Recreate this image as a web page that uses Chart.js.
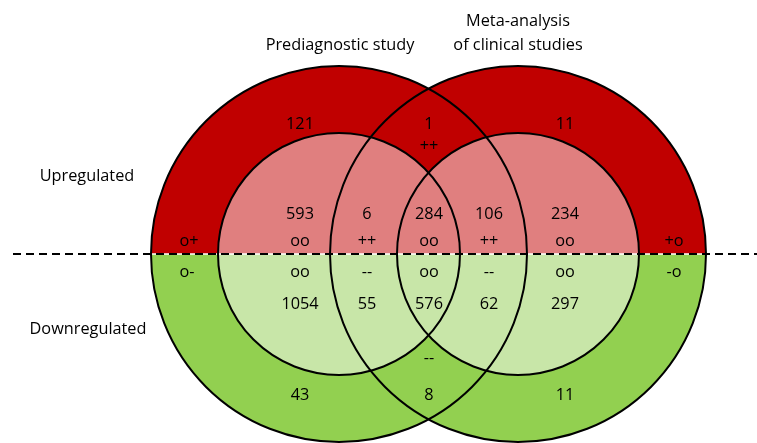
<!DOCTYPE html>
<html>
<head>
<meta charset="utf-8">
<script src="https://cdn.jsdelivr.net/npm/chart.js@4"></script>
<style>
html,body{margin:0;padding:0;background:#fff;}
#wrap{width:757px;height:443px;}
</style>
</head>
<body>
<div id="wrap"><canvas id="c" width="757" height="443"></canvas></div>
<script>
// ---- data (counts per region) ----
const outerUpCounts   = [121, 1, 11];            // outer ring, upregulated: prediag only, both, meta only
const innerUpCounts   = [593, 6, 284, 106, 234];
const innerDownCounts = [1054, 55, 576, 62, 297];
const outerDownCounts = [43, 8, 11];
const innerUpSigns    = ['oo', '++', 'oo', '++', 'oo'];
const innerDownSigns  = ['oo', '--', 'oo', '--', 'oo'];
const edgeUpSigns     = ['o+', '+o'];
const edgeDownSigns   = ['o-', '-o'];
const outerBothUpSign = '++';
const outerBothDownSign = '--';
const setTitles = [['Prediagnostic study'], ['Meta-analysis', 'of clinical studies']];
const rowTitles = ['Upregulated', 'Downregulated'];

// ---- layout (pixel-space coordinates on the hidden scales) ----
const L = {
  centers: [[339, 254], [518, 254]],
  rOuter: 188, rInner: 121,
  splitY: 254,
  innerCols: [300, 367, 429, 489, 565],
  outerCols: [300, 429, 565],
  edgeUpCols: [189, 674],
  edgeDownCols: [187, 674],
  rowY: {outer: 124, outerSign: 146, innerNum: 214, upSign: 241, downSign: 272, innerDownNum: 304, outerDownSign: 358, outerDown: 395},
  titles: [[340, [45]], [518, [21, 45]]],
  rowTitlePos: [[87, 176], [88, 329]],
  dashFrom: 13
};
const COL = {darkRed:'#C00000', lightRed:'#E07F7F', darkGreen:'#92D050', lightGreen:'#C8E6A8'};
const FONT = '16.3px "Open Sans", Lato, sans-serif';

const vennPlugin = {
  id: 'venn',
  beforeDatasetsDraw(chart) {
    const ctx = chart.ctx, xs = chart.scales.x, ys = chart.scales.y;
    const X = v => xs.getPixelForValue(v), Y = v => ys.getPixelForValue(v);
    const rPix = r => Math.abs(X(r) - X(0));
    const circ = (c, r) => { ctx.moveTo(X(c[0]) + rPix(r), Y(c[1])); ctx.arc(X(c[0]), Y(c[1]), rPix(r), 0, Math.PI * 2); };
    const W = chart.width, H = chart.height, sy = Y(L.splitY);
    const halves = [[0, sy, COL.darkRed, COL.lightRed], [sy, H, COL.darkGreen, COL.lightGreen]];
    halves.forEach(([y0, y1, dark, light]) => {
      ctx.save();
      ctx.beginPath(); ctx.rect(0, y0, W, y1 - y0); ctx.clip();
      ctx.fillStyle = dark;
      L.centers.forEach(c => { ctx.beginPath(); circ(c, L.rOuter); ctx.fill(); });
      ctx.fillStyle = light;
      L.centers.forEach(c => { ctx.beginPath(); circ(c, L.rInner); ctx.fill(); });
      ctx.restore();
    });
    // white separation
    ctx.save();
    ctx.strokeStyle = '#ffffff'; ctx.lineWidth = 1.5;
    ctx.beginPath(); ctx.moveTo(X(150), sy); ctx.lineTo(X(710), sy); ctx.stroke();
    // outlines
    ctx.strokeStyle = '#000'; ctx.lineWidth = 2;
    L.centers.forEach(c => { ctx.beginPath(); circ(c, L.rOuter); ctx.stroke(); });
    L.centers.forEach(c => { ctx.beginPath(); circ(c, L.rInner); ctx.stroke(); });
    // dashed split line
    ctx.setLineDash([8, 5]); ctx.lineWidth = 2;
    ctx.beginPath(); ctx.moveTo(X(L.dashFrom), sy); ctx.lineTo(W, sy); ctx.stroke();
    ctx.restore();

    // texts
    ctx.save();
    ctx.font = FONT; ctx.fillStyle = '#000'; ctx.textAlign = 'center'; ctx.textBaseline = 'middle';
    const t = (s, x, y) => ctx.fillText(String(s), X(x), Y(y));
    outerUpCounts.forEach((v, i) => t(v, L.outerCols[i], L.rowY.outer));
    t(outerBothUpSign, L.outerCols[1], L.rowY.outerSign);
    innerUpCounts.forEach((v, i) => t(v, L.innerCols[i], L.rowY.innerNum));
    innerUpSigns.forEach((v, i) => t(v, L.innerCols[i], L.rowY.upSign));
    innerDownSigns.forEach((v, i) => t(v, L.innerCols[i], L.rowY.downSign));
    innerDownCounts.forEach((v, i) => t(v, L.innerCols[i], L.rowY.innerDownNum));
    t(outerBothDownSign, L.outerCols[1], L.rowY.outerDownSign);
    outerDownCounts.forEach((v, i) => t(v, L.outerCols[i], L.rowY.outerDown));
    edgeUpSigns.forEach((v, i) => t(v, L.edgeUpCols[i], L.rowY.upSign));
    edgeDownSigns.forEach((v, i) => t(v, L.edgeDownCols[i], L.rowY.downSign));
    setTitles.forEach((lines, i) => lines.forEach((s, j) => t(s, L.titles[i][0], L.titles[i][1][j])));
    rowTitles.forEach((s, i) => t(s, L.rowTitlePos[i][0], L.rowTitlePos[i][1]));
    ctx.restore();
  }
};

new Chart(document.getElementById('c'), {
  type: 'scatter',
  data: { datasets: [{ data: [], pointRadius: 0 }] },
  options: {
    responsive: false, animation: false, devicePixelRatio: 1,
    layout: { padding: 0 },
    plugins: { legend: { display: false }, tooltip: { enabled: false } },
    scales: {
      x: { type: 'linear', min: 0, max: 757, display: false },
      y: { type: 'linear', min: 0, max: 443, reverse: true, display: false }
    }
  },
  plugins: [vennPlugin]
});
</script>
</body>
</html>
